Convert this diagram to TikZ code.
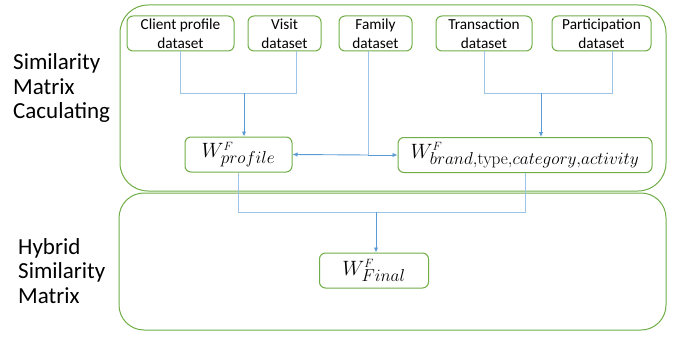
\documentclass[tikz,border=0pt]{standalone}
\usepackage[no-math]{fontspec}
\setmainfont{Carlito}
\DeclareMathSizes{22}{22}{17.5}{13}
\usetikzlibrary{arrows.meta}
\definecolor{grn}{HTML}{70AD47}
\definecolor{lblue}{HTML}{9DC3E6}
\definecolor{dblue}{HTML}{5B9BD5}
\newcommand{\wsup}{{\scriptscriptstyle F}}
\tikzset{
  group/.style={draw=grn, line width=1pt, rounded corners=28pt},
  dsbox/.style={draw=grn, line width=1pt, rounded corners=6pt, minimum height=35pt, inner sep=1pt, align=center, font=\fontsize{15.3}{18.7}\selectfont},
  wbox/.style={draw=grn, line width=1pt, rounded corners=6pt, minimum height=35pt, inner sep=0pt, font=\fontsize{22}{24}\selectfont},
  conn/.style={draw=lblue, line width=0.9pt},
  arr/.style={draw=dblue, line width=0.9pt, -{Latex[length=5pt,width=4.5pt]}},
  side/.style={anchor=west, align=left, inner sep=0pt, font=\fontsize{23}{24.5}\selectfont}
}
\begin{document}
\begin{tikzpicture}[x=1pt,y=-1pt]
\useasboundingbox (0,0) rectangle (677,337);
% group frames
\draw[group] (120,5) rectangle (666,191);
\draw[group, rounded corners=25pt] (119,193) rectangle (666,330);
% side labels
\node[side] (lab1) at (13,88) {Similarity\\Matrix\\Caculating};
\node[side] (lab2) at (18,271) {Hybrid\\Similarity\\Matrix};
% dataset nodes
\node[dsbox, minimum width=107pt] (cp) at (180.5,33.5) {Client profile\\dataset};
\node[dsbox, minimum width=73pt] (visit) at (284.5,33.5) {Visit\\dataset};
\node[dsbox, minimum width=73pt] (family) at (375.5,33.5) {Family\\dataset};
\node[dsbox, minimum width=96pt] (trans) at (484,33.5) {Transaction\\dataset};
\node[dsbox, minimum width=99pt] (part) at (601.5,33.5) {Participation\\dataset};
% matrices
\node[wbox, minimum width=107pt] (wp) at (238.5,154.5) {$W^{\wsup}_{profile}$};
\node[wbox, minimum width=254pt] (wb) at (525,155) {$W^{\wsup}_{brand,\mathrm{type},category,activity}$};
\node[wbox, minimum width=109pt] (wf) at (374,270.5) {$W^{\wsup}_{Final}$};
% junctions
\coordinate (j1) at (244,93);
\coordinate (j2) at (368,155);
\coordinate (j3) at (541,93);
\coordinate (j4) at (376,212);
% connectors
\draw[conn] (cp.south) |- (j1);
\draw[conn] ([xshift=11.5pt]visit.south) |- (j1);
\draw[arr] (j1) -- (wp.north -| j1);
\draw[conn] (family.south -| j2) -- (j2);
\draw[arr] (j2) -- (wp.east);
\draw[arr] (j2) -- (wb.west);
\draw[conn] (trans.south) |- (j3);
\draw[conn] ([xshift=10.5pt]part.south) |- (j3);
\draw[arr] (j3) -- (wb.north -| j3);
\draw[conn] (wp.south) |- (j4);
\draw[conn] (wb.south) |- (j4);
\draw[arr] (j4) -- (wf.north -| j4);
\end{tikzpicture}
\end{document}
